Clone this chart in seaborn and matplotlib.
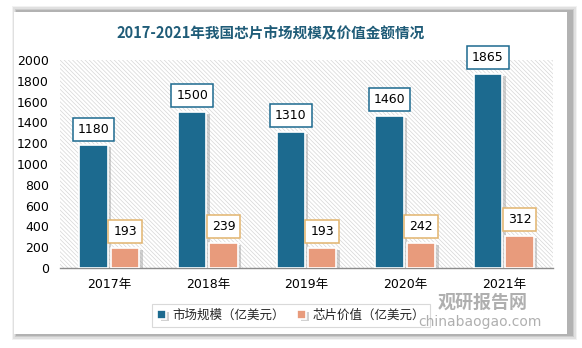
import matplotlib
matplotlib.use("Agg")
import matplotlib.pyplot as plt
import matplotlib.patheffects as pe
from matplotlib.patches import Rectangle, FancyBboxPatch
import seaborn as sns
import pandas as pd

years = ["2017年", "2018年", "2019年", "2020年", "2021年"]
market_size = [1180, 1500, 1310, 1460, 1865]
chip_value = [193, 239, 193, 242, 312]
series_names = ["市场规模（亿美元）", "芯片价值（亿美元）"]
y_ticks = [0, 200, 400, 600, 800, 1000, 1200, 1400, 1600, 1800, 2000]
title = "2017-2021年我国芯片市场规模及价值金额情况"

df = pd.DataFrame({
    "year": years * 2,
    "value": market_size + chip_value,
    "series": [series_names[0]] * len(years) + [series_names[1]] * len(years),
})

sns.set_theme(style="white")
plt.rcParams["font.family"] = ["Noto Sans CJK SC", "DejaVu Sans"]
plt.rcParams["hatch.linewidth"] = 0.5

blue = "#1C6A8F"
orange = "#E89B7C"
palette = {series_names[0]: blue, series_names[1]: orange}

fig = plt.figure(figsize=(5.82, 3.48), dpi=100)
fig.patch.set_facecolor("white")

# card with soft shadow
for i, a in enumerate([0.05, 0.07, 0.09, 0.12]):
    off = 6 - i * 1.4
    fig.patches.append(FancyBboxPatch(
        ((14 - off + 4) / 582, (348 - 334 - off) / 348),
        (553 + 2 * off) / 582, (322 + 2 * off) / 348,
        boxstyle="square,pad=0", transform=fig.transFigure,
        facecolor="black", edgecolor="none", alpha=a, zorder=0))
fig.patches.append(Rectangle((14 / 582, (348 - 334) / 348), 553 / 582, 322 / 348,
                             transform=fig.transFigure, facecolor="white",
                             edgecolor="none", zorder=1))

ax = fig.add_axes([60 / 582, (348 - 268) / 348, 493 / 582, 208 / 348])
ax.set_zorder(2)
ax.patch.set_alpha(0)

# hatched plot background
ax.add_patch(Rectangle((0, 0), 1, 1, transform=ax.transAxes, facecolor="white",
                       edgecolor="#D6D6D6", hatch="\\" * 8, lw=0, zorder=0))

sns.barplot(data=df, x="year", y="value", hue="series", palette=palette,
            width=0.64, gap=0.1, ax=ax, edgecolor="white", linewidth=1.2,
            saturation=1, legend=True, zorder=3)

for patch in ax.patches[1:]:
    patch.set_path_effects([pe.SimplePatchShadow(offset=(2.5, -1.5), shadow_rgbFace="#9A9A9A", alpha=0.45),
                            pe.Normal()])

ax.set_ylim(0, 2000)
ax.set_yticks(y_ticks)
ax.set_xlim(-0.5, len(years) - 0.5)
ax.set_xlabel("")
ax.set_ylabel("")
ax.tick_params(axis="y", labelsize=9, colors="black", length=0, pad=8)
ax.tick_params(axis="x", labelsize=9, colors="black", length=0, pad=7)
for lab in ax.get_yticklabels() + ax.get_xticklabels():
    lab.set_family(["DejaVu Sans", "Noto Sans CJK SC"])
for s in ["top", "right", "left"]:
    ax.spines[s].set_visible(False)
ax.spines["bottom"].set_color("#8C8C8C")
ax.spines["bottom"].set_linewidth(1.0)

# value labels in boxes
for cont, vals, ec in zip(ax.containers, [market_size, chip_value], [blue, "#E2B46E"]):
    for bar, v in zip(cont, vals):
        ax.annotate(f"{v}", (bar.get_x() + bar.get_width() / 2, v),
                    xytext=(0, 7), textcoords="offset points",
                    ha="center", va="bottom", fontsize=9, color="black",
                    family=["DejaVu Sans"], zorder=5,
                    bbox=dict(boxstyle="square,pad=0.4", facecolor="white",
                              edgecolor=ec, linewidth=1.1))

leg = ax.legend(loc="center", bbox_to_anchor=(291 / 582, (348 - 315) / 348),
                bbox_transform=fig.transFigure, ncol=2, frameon=True, fontsize=9,
                handlelength=0.7, handleheight=0.7, handletextpad=0.5,
                columnspacing=1.0, borderpad=0.4, fancybox=False)
leg.get_frame().set_edgecolor("#D0D0D0")
leg.get_frame().set_linewidth(0.8)

fig.text(0.5 - 20 / 582, (348 - 33) / 348, title, ha="center", va="center", fontsize=10.5,
         fontweight="bold", color="#1F5C78", zorder=3)

# watermark
fig.text(483 / 582, (348 - 302) / 348, "观研报告网", ha="center", va="center",
         fontsize=13, fontweight="bold", color="#8E8E8E", alpha=0.7, zorder=4)
fig.text(480 / 582, (348 - 322) / 348, "chinabaogao.com", ha="center", va="center",
         fontsize=10, color="#8E8E8E", alpha=0.7, family=["DejaVu Sans"], zorder=4)

fig.savefig("out.png", dpi=100)
